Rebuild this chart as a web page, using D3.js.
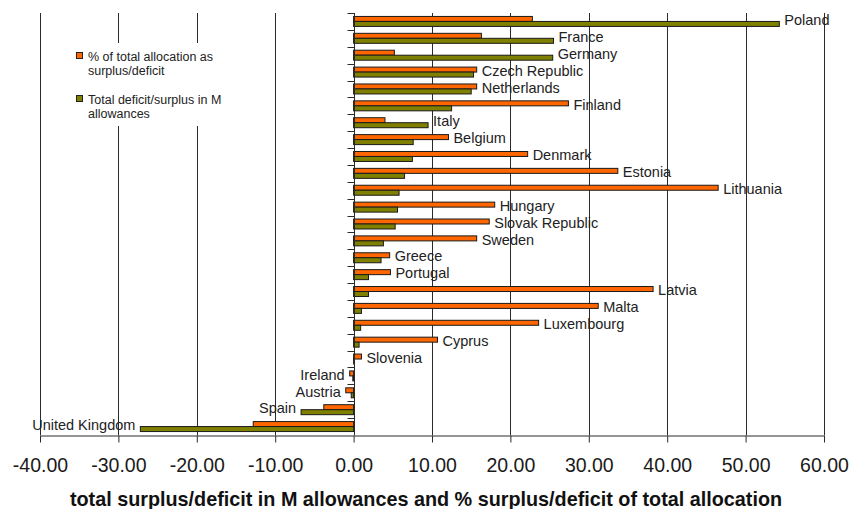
<!DOCTYPE html>
<html>
<head>
<meta charset="utf-8">
<script src="https://cdn.jsdelivr.net/npm/d3@7"></script>
<style>
  html, body { margin: 0; padding: 0; background: #ffffff; }
  svg { display: block; font-family: "Liberation Sans", Arial, sans-serif; }
</style>
</head>
<body>
<svg id="chart" width="850" height="509"></svg>
<script>
// Member states, top to bottom
const countries = [
  "Poland", "France", "Germany", "Czech Republic", "Netherlands", "Finland",
  "Italy", "Belgium", "Denmark", "Estonia", "Lithuania", "Hungary",
  "Slovak Republic", "Sweden", "Greece", "Portugal", "Latvia", "Malta",
  "Luxembourg", "Cyprus", "Slovenia", "Ireland", "Austria", "Spain",
  "United Kingdom"
];

// % of total allocation as surplus/deficit
const pctOfAllocation = [
  22.8, 16.3, 5.2, 15.7, 15.7, 27.4,
  4.0, 12.1, 22.2, 33.7, 46.5, 18.0,
  17.3, 15.7, 4.6, 4.7, 38.2, 31.2,
  23.6, 10.7, 1.0, -0.5, -1.0, -3.8,
  -12.8
];

// Total deficit/surplus in million allowances
const mAllowances = [
  54.3, 25.5, 25.4, 15.3, 15.0, 12.5,
  9.5, 7.6, 7.5, 6.5, 5.8, 5.6,
  5.3, 3.8, 3.5, 1.9, 1.9, 1.0,
  0.9, 0.7, 0.1, -0.1, -0.3, -6.7,
  -27.2
];

const xTicks = [-40, -30, -20, -10, 0, 10, 20, 30, 40, 50, 60];

const seriesNames = ["% of total allocation as surplus/deficit", "Total deficit/surplus in M allowances"];
const seriesKeys = ["pct", "mt"];
const seriesColors = ["#ff6600", "#808000"];

const rows = countries.map((c, i) => ({ country: c, pct: pctOfAllocation[i], mt: mAllowances[i] }));

const svg = d3.select("#chart");

const x = d3.scaleLinear().domain([-40, 60]).range([40, 824]);
const y = d3.scaleBand().domain(countries).range([13, 435]).paddingInner(0).paddingOuter(0);
const ySub = d3.scaleBand().domain(seriesKeys).range([0, y.bandwidth()]).paddingInner(0).paddingOuter(0.69);
const color = d3.scaleOrdinal().domain(seriesKeys).range(seriesColors);

// Vertical gridlines
svg.append("g")
  .selectAll("line")
  .data(xTicks)
  .join("line")
  .attr("x1", d => Math.round(x(d)) + 0.5)
  .attr("x2", d => Math.round(x(d)) + 0.5)
  .attr("y1", 13)
  .attr("y2", 435)
  .attr("stroke", "#2a2a2a")
  .attr("stroke-width", 1);

// Legend panel (white box sitting over the gridlines)
const legend = svg.append("g");
legend.append("rect")
  .attr("x", 70).attr("y", 43).attr("width", 160).attr("height", 83)
  .attr("fill", "#ffffff");

const legendLines = [
  ["% of total allocation as", "surplus/deficit"],
  ["Total deficit/surplus in M", "allowances"]
];
const legendTop = [52.5, 95.5];
seriesKeys.forEach((k, i) => {
  legend.append("rect")
    .attr("x", 76.5).attr("y", legendTop[i])
    .attr("width", 6).attr("height", 6)
    .attr("fill", color(k))
    .attr("stroke", "#222").attr("stroke-width", 1);
  const t = legend.append("text")
    .attr("x", 88)
    .attr("y", legendTop[i] + 8.5)
    .attr("font-size", "12.5px")
    .attr("fill", "#222");
  legendLines[i].forEach((ln, j) => {
    t.append("tspan").attr("x", 88).attr("dy", j === 0 ? 0 : 14).text(ln);
  });
});

// Bars
const groups = svg.append("g")
  .selectAll("g")
  .data(rows)
  .join("g")
  .attr("transform", d => `translate(0,${y(d.country)})`);

groups.selectAll("rect")
  .data(d => seriesKeys.map(k => ({ key: k, value: d[k] })))
  .join("rect")
  .attr("x", d => x(Math.min(0, d.value)))
  .attr("width", d => Math.abs(x(d.value) - x(0)))
  .attr("y", d => ySub(d.key))
  .attr("height", ySub.bandwidth())
  .attr("fill", d => color(d.key))
  .attr("stroke", "#1a1a1a")
  .attr("stroke-width", 1);

// Category axis at zero, ticks at band boundaries pointing left
const x0 = Math.round(x(0)) + 0.5;
svg.append("line")
  .attr("x1", x0).attr("x2", x0)
  .attr("y1", 13).attr("y2", 435)
  .attr("stroke", "#2a2a2a");
const boundaries = countries.map(c => y(c));
svg.append("g")
  .selectAll("line")
  .data(boundaries)
  .join("line")
  .attr("x1", x0 - 7).attr("x2", x0)
  .attr("y1", d => Math.round(d) + 0.5)
  .attr("y2", d => Math.round(d) + 0.5)
  .attr("stroke", "#2a2a2a");

// Country labels beside the bars
svg.append("g")
  .selectAll("text")
  .data(rows)
  .join("text")
  .attr("x", d => {
    const hi = Math.max(d.pct, d.mt, 0);
    const lo = Math.min(d.pct, d.mt, 0);
    return hi > 0 ? x(hi) + 5 : x(lo) - 5;
  })
  .attr("text-anchor", d => Math.max(d.pct, d.mt) > 0 ? "start" : "end")
  .attr("y", d => y(d.country) + y.bandwidth() / 2 + 3.7)
  .attr("font-size", "14.5px")
  .attr("fill", "#222")
  .text(d => d.country);

// Value axis along the bottom
const xAxis = svg.append("g")
  .attr("transform", "translate(0,435.5)")
  .call(d3.axisBottom(x).tickValues(xTicks).tickFormat(d => d.toFixed(2)).tickSizeOuter(0).tickSizeInner(7).tickPadding(0));
xAxis.select(".domain").attr("stroke", "#2a2a2a");
xAxis.selectAll(".tick line").attr("stroke", "#2a2a2a");
xAxis.selectAll(".tick text")
  .attr("font-family", "'Liberation Sans', Arial, sans-serif")
  .attr("font-size", "19.5px")
  .attr("fill", "#1a1a1a")
  .attr("dy", null)
  .attr("y", 36);

// Axis title
svg.append("text")
  .attr("x", (69 + 783) / 2)
  .attr("y", 506)
  .attr("text-anchor", "middle")
  .attr("font-size", "19.8px")
  .attr("font-weight", "bold")
  .attr("fill", "#111")
  .text("total surplus/deficit in M allowances and % surplus/deficit of total allocation");
</script>
</body>
</html>
